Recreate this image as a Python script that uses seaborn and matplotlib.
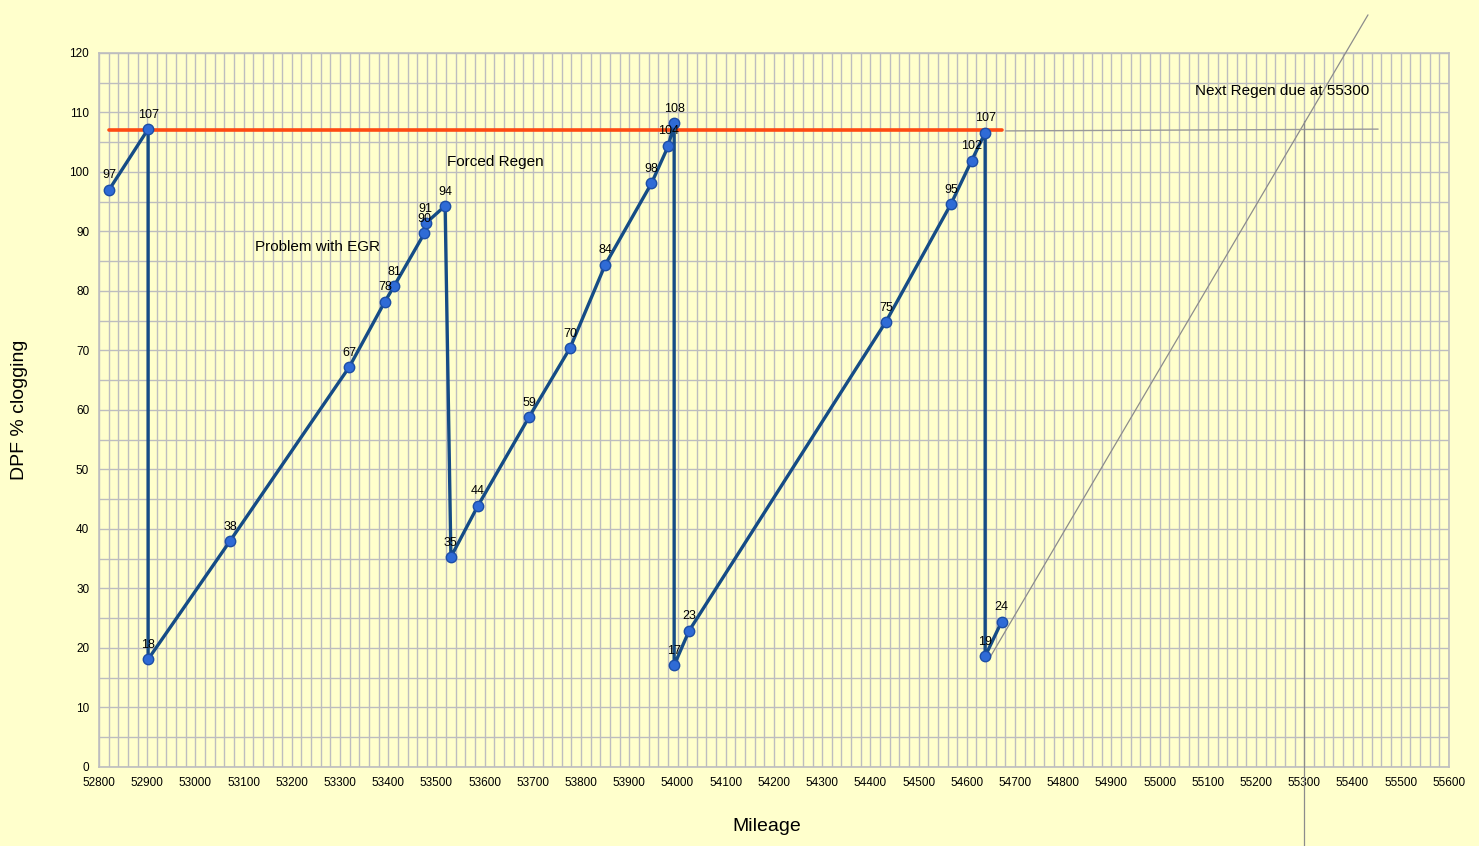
import numpy as np
import pandas as pd
import matplotlib
matplotlib.use("Agg")
import matplotlib.pyplot as plt
from matplotlib.ticker import MultipleLocator
import seaborn as sns

# ---- data ----
mileage = [52821, 52902, 52902, 53072, 53319, 53393, 53412, 53475, 53478, 53518,
           53530, 53586, 53692, 53777, 53850, 53946, 53981, 53993, 53993, 54024,
           54432, 54567, 54610, 54638, 54638, 54672]
clogging = [97.0, 107.2, 18.1, 38.0, 67.2, 78.2, 80.8, 89.7, 91.4, 94.3,
            35.3, 43.9, 58.8, 70.4, 84.4, 98.1, 104.4, 108.2, 17.1, 22.9,
            74.8, 94.6, 101.9, 106.6, 18.6, 24.4]
threshold = 107
threshold_span = [52821, 54672]
trend_x = [54645, 55432]
trend_y = [18.0, 126.4]
next_regen_x = 55300
guide_x = [54680, 55453]
guide_y = [106.9, 107.2]
annotations = [("Problem with EGR", 53254, 87.4),
               ("Forced Regen", 53623, 101.7),
               ("Next Regen due at 55300", 55254, 113.6)]

df = pd.DataFrame({"Mileage": mileage, "DPF % clogging": clogging})

sns.set_style("white")
plt.rcParams["font.family"] = ["Liberation Sans", "DejaVu Sans"]

bg = "#FFFFCC"
grid_c = "#BDBDBF"

fig = plt.figure(figsize=(14.79, 8.46), dpi=100, facecolor=bg)
ax = fig.add_axes([0.0669, 0.0934, 0.9128, 0.8440])
ax.set_facecolor(bg)

ax.set_xlim(52800, 55600)
ax.set_ylim(0, 120)

ax.xaxis.set_major_locator(MultipleLocator(100))
ax.xaxis.set_minor_locator(MultipleLocator(20))
ax.yaxis.set_major_locator(MultipleLocator(10))
ax.yaxis.set_minor_locator(MultipleLocator(5))
ax.grid(which="both", color=grid_c, linewidth=1.0)
ax.set_axisbelow(True)
for s in ax.spines.values():
    s.set_color(grid_c)
    s.set_linewidth(1.2)

ax.tick_params(axis="both", which="major", direction="out", length=4, width=1,
               color=grid_c, labelsize=8.5, labelcolor="black", pad=3)
ax.tick_params(axis="both", which="minor", length=0)

# threshold line
ax.plot(threshold_span, [threshold, threshold], color="#FF4A12", lw=2.6, zorder=3)

# projection lines
ax.plot(trend_x, trend_y, color="#8C8C8C", lw=0.9, zorder=3, clip_on=False)
ax.plot(guide_x, guide_y, color="#9A9A9A", lw=1.0, zorder=3)
ax.plot([next_regen_x, next_regen_x], [108.5, -13.5], color="#8C8C8C", lw=0.9,
        zorder=3, clip_on=False)

# main series
sns.lineplot(data=df, x="Mileage", y="DPF % clogging", sort=False, estimator=None,
             color="#154C86", lw=2.4, marker="o", markersize=7.5,
             markerfacecolor="#2F6BD6", markeredgecolor="#1C4EA6",
             markeredgewidth=1.0, ax=ax, zorder=4)

for xv, yv in zip(mileage, clogging):
    ax.annotate(f"{yv:.0f}", (xv, yv), xytext=(0, 6), textcoords="offset points",
                ha="center", va="bottom", fontsize=9, color="black", zorder=5)

for txt, xv, yv in annotations:
    ax.text(xv, yv, txt, ha="center", va="center", fontsize=11, color="black", zorder=5)

ax.set_xlabel("Mileage", fontsize=14, color="black")
ax.set_ylabel("DPF % clogging", fontsize=14, color="black")
ax.xaxis.set_label_coords(0.4948, -0.084)
ax.yaxis.set_label_coords(-0.0585, 0.5)
ax.xaxis.label.set_va("center")
ax.yaxis.label.set_va("center")

fig.savefig("out.png", dpi=100, facecolor=bg)
